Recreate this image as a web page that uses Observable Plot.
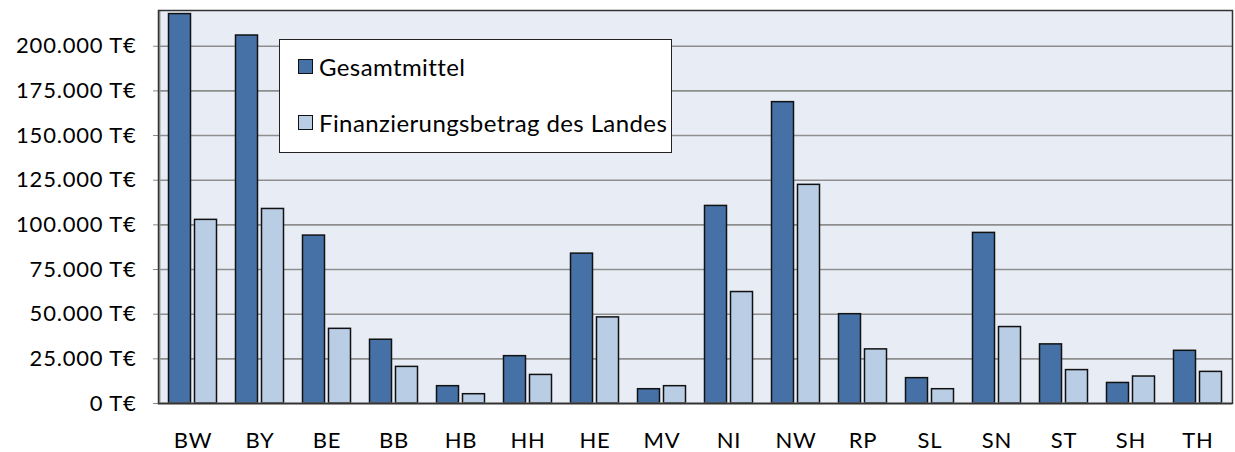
<!DOCTYPE html>
<html>
<head>
<meta charset="utf-8">
<script src="https://cdn.jsdelivr.net/npm/d3@7"></script>
<script src="https://cdn.jsdelivr.net/npm/@observablehq/plot@0.6"></script>
<style>
  html, body { margin: 0; padding: 0; background: #fff; }
  #wrap { position: relative; width: 1235px; height: 452px; font-family: Lato, "Open Sans", sans-serif; }
  #legend { position: absolute; left: 279px; top: 39px; width: 391px; height: 112px; background: #fff; border: 1.5px solid #222; box-sizing: content-box; }
  .item { position: absolute; left: 18px; display: flex; align-items: center; font-size: 24px; letter-spacing: 0.4px; color: #000; }
  .sw { width: 13px; height: 13px; border: 1.5px solid #111; margin-right: 6px; }
</style>
</head>
<body>
<div id="wrap"></div>
<script>
const categories = ["BW","BY","BE","BB","HB","HH","HE","MV","NI","NW","RP","SL","SN","ST","SH","TH"];
const gesamtmittel = [218000,206000,94000,35700,9700,26500,83900,8000,110600,168700,50000,14200,95500,33100,11500,29500];
const landesanteil = [102800,108900,41800,20500,5200,16000,48200,9700,62400,122400,30300,8000,42800,18700,15100,17700];
const seriesNames = ["Gesamtmittel", "Finanzierungsbetrag des Landes"];
const yTicks = [0,25000,50000,75000,100000,125000,150000,175000,200000];
const colors = ["#4571a6", "#b9cde5"];

const de = d3.formatLocale({decimal: ",", thousands: ".", grouping: [3], currency: ["", "€"]});
const fmt = de.format(",");

const rowsG = categories.map((c, i) => ({cat: c, v: gesamtmittel[i]}));
const rowsL = categories.map((c, i) => ({cat: c, v: landesanteil[i]}));

const chart = Plot.plot({
  width: 1235,
  height: 452,
  marginLeft: 158,
  marginRight: 3,
  marginTop: 10,
  marginBottom: 49,
  style: {fontFamily: "Lato, 'Open Sans', sans-serif", fontSize: "22px", color: "#000", background: "transparent"},
  x: {domain: categories, padding: 0, label: null, tickSize: 0, tickPadding: 29},
  y: {domain: [0, 220000], ticks: yTicks, label: null, tickSize: 5, tickPadding: 17, tickFormat: d => fmt(d) + " T€"},
  marks: [
    Plot.frame({fill: "#e8ecf4", stroke: null}),
    Plot.gridY(yTicks, {stroke: "#8e8e8e", strokeOpacity: 1, strokeWidth: 1.6}),
    Plot.barY(rowsG, {x: "cat", y: "v", fill: colors[0], stroke: "#111", strokeWidth: 1.5, insetLeft: 9.5, insetRight: 35.5}),
    Plot.barY(rowsL, {x: "cat", y: "v", fill: colors[1], stroke: "#111", strokeWidth: 1.5, insetLeft: 35.5, insetRight: 9.5}),
    Plot.ruleY([0], {stroke: "#8e8e8e", strokeWidth: 2}),
    Plot.ruleX([categories[0]], {stroke: "#999", strokeWidth: 2, dx: -33.5}),
    Plot.frame({stroke: "#333", strokeWidth: 1.5, fill: "none"})
  ]
});
chart.querySelectorAll("g[aria-label='y-axis tick'] path, g[aria-label='y-axis tick'] line").forEach(p => p.setAttribute("stroke", "#888"));
chart.querySelectorAll("g[aria-label='y-axis tick label'] text, g[aria-label='x-axis tick label'] text").forEach(t => t.setAttribute("letter-spacing", "0.8"));
document.getElementById("wrap").appendChild(chart);

const legend = document.createElement("div");
legend.id = "legend";
seriesNames.forEach((name, i) => {
  const it = document.createElement("div");
  it.className = "item";
  it.style.top = (i === 0 ? 12 : 68) + "px";
  const sw = document.createElement("div");
  sw.className = "sw";
  sw.style.background = colors[i];
  it.appendChild(sw);
  const t = document.createElement("span");
  t.textContent = name;
  it.appendChild(t);
  legend.appendChild(it);
});
document.getElementById("wrap").appendChild(legend);
</script>
</body>
</html>
